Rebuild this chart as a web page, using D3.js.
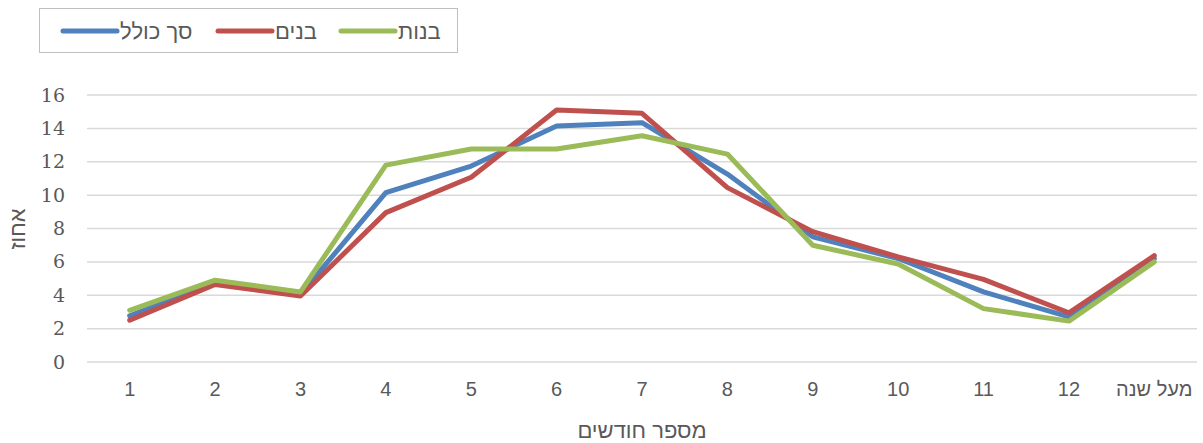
<!DOCTYPE html>
<html><head><meta charset="utf-8">
<script src="https://cdn.jsdelivr.net/npm/d3@7"></script>
<style>body{margin:0;background:#fff}svg{display:block}</style>
</head><body>
<svg id="c" width="1203" height="443"></svg>
<script>
const categories = ["1","2","3","4","5","6","7","8","9","10","11","12","מעל שנה"];
const total = [2.77, 4.75, 4.05, 10.15, 11.74, 14.14, 14.34, 11.26, 7.5, 6.2, 4.2, 2.7, 6.2];
const boys  = [2.5, 4.65, 3.95, 8.95, 11.07, 15.1, 14.9, 10.45, 7.81, 6.3, 4.95, 2.95, 6.37];
const girls = [3.1, 4.9, 4.2, 11.8, 12.76, 12.76, 13.56, 12.46, 7.0, 5.87, 3.2, 2.45, 6.0];
const yTicks = [0,2,4,6,8,10,12,14,16];
const seriesNames = ["סך כולל","בנים","בנות"];
const seriesColors = ["#4F81BD","#C0504D","#9BBB59"];

(function(){
const series = [total, boys, girls].map((v,i)=>({name:seriesNames[i], color:seriesColors[i], values:v}));

const svg = d3.select("#c");
const mLeft = 87, mRight = 1197, mTop = 95, mBottom = 362;
const x = d3.scaleBand().domain(categories).range([mLeft,mRight]);
const y = d3.scaleLinear().domain([0,16]).range([mBottom,mTop]);

svg.append("g").selectAll("line").data(yTicks).join("line")
  .attr("x1",mLeft).attr("x2",mRight)
  .attr("y1",d=>y(d)).attr("y2",d=>y(d))
  .attr("stroke","#D9D9D9").attr("stroke-width",1.5);

const yAxis = svg.append("g").attr("transform",`translate(${mLeft-22},0)`)
  .call(d3.axisLeft(y).tickValues(yTicks).tickSize(0).tickPadding(0));
yAxis.select(".domain").remove();
yAxis.selectAll("text").attr("font-family","'DejaVu Serif','Liberation Serif',serif")
  .attr("font-size",19).attr("fill","#595959");

const xAxis = svg.append("g").attr("transform",`translate(0,${mBottom+20})`)
  .call(d3.axisBottom(x).tickSize(0).tickPadding(0));
xAxis.select(".domain").remove();
xAxis.selectAll("text").attr("font-family","'Liberation Sans Narrow','Liberation Sans',Arial,sans-serif")
  .attr("font-size",20).attr("fill","#595959").attr("dy","0.71em");

const line = d3.line().x((d,i)=>x(categories[i])+x.bandwidth()/2).y(d=>y(d));
svg.append("g").selectAll("path").data(series).join("path")
  .attr("d",d=>line(d.values)).attr("fill","none")
  .attr("stroke",d=>d.color).attr("stroke-width",5)
  .attr("stroke-linejoin","round").attr("stroke-linecap","round");

svg.append("text").attr("x",642).attr("y",438).attr("text-anchor","middle")
  .attr("font-family","'Liberation Sans Narrow','Liberation Sans',Arial,sans-serif")
  .attr("font-size",22).attr("fill","#595959").text("מספר חודשים");
svg.append("text").attr("transform","translate(25,229) rotate(-90)").attr("text-anchor","middle")
  .attr("font-family","'Liberation Sans','DejaVu Sans',sans-serif")
  .attr("font-size",22).attr("fill","#595959").text("אחוז");

const lg = svg.append("g");
lg.append("rect").attr("x",39.5).attr("y",8.5).attr("width",418).attr("height",44)
  .attr("fill","#fff").attr("stroke","#BFBFBF").attr("stroke-width",1);
const legendX = [63, 218, 341];
const items = lg.selectAll("g").data(series).join("g")
  .attr("transform",(d,i)=>`translate(${legendX[i]},31)`);
items.append("line").attr("x1",0).attr("x2",54).attr("stroke",d=>d.color)
  .attr("stroke-width",5).attr("stroke-linecap","round");
items.append("text").attr("x",57).attr("dy","0.35em").attr("text-anchor","start")
  .attr("font-family","'Liberation Sans','DejaVu Sans',sans-serif")
  .attr("font-size",22).attr("fill","#595959").text(d=>d.name);
})();
</script>
</body></html>
